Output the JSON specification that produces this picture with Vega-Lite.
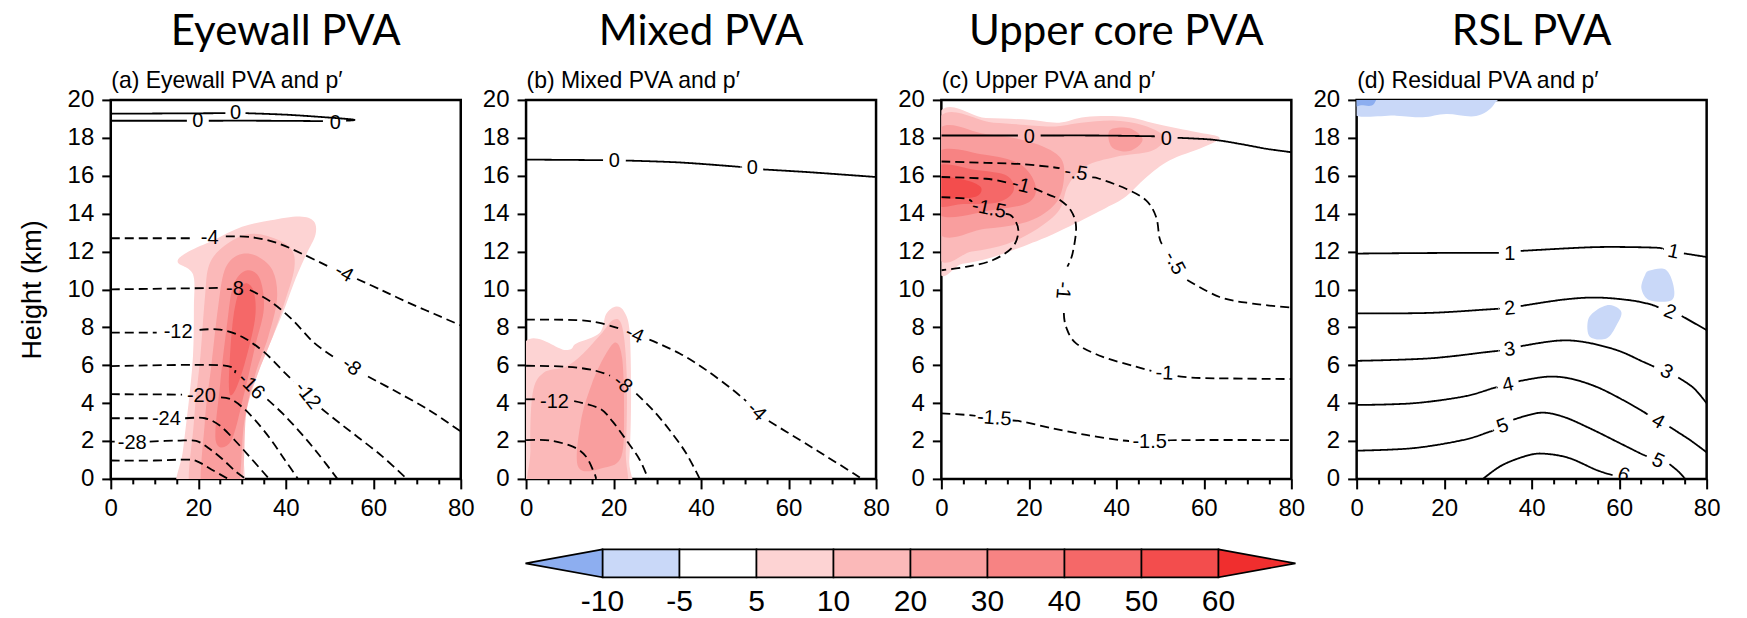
{
"$schema": "https://vega.github.io/schema/vega-lite/v6.json",
"background": "white",
"padding": {"left": 16.5, "top": 9.9, "right": 10, "bottom": 0},
"config": {
  "font": "Liberation Sans",
  "view": {"stroke": "black", "strokeWidth": 2.5},
  "axis": {"labelFont": "Liberation Sans", "labelFontSize": 24, "labelColor": "black", "titleFont": "Liberation Sans", "titleFontSize": 27, "titleFontWeight": "normal", "titleColor": "black", "tickColor": "black", "tickWidth": 2, "domain": false, "grid": false}
},
"spacing": 22.5,
"center": true,
"resolve": {"scale": {"fill": "independent"}},
"vconcat": [
{
"hconcat": [
{
 "width": 350, "height": 379,
 "title": {"text": "Eyewall PVA", "font": "Lato", "fontSize": 42, "fontWeight": "normal", "color": "black", "anchor": "middle", "frame": "group", "offset": 15.5},
 "resolve": {"axis": {"x": "independent", "y": "independent"}},
 "layer": [
  {"data": {"name": "fa"}, "mark": {"type": "line", "interpolate": "cardinal-closed", "clip": true, "strokeWidth": 0, "strokeOpacity": 0},
   "encoding": {
    "x": {"field": "x", "type": "quantitative", "scale": {"domain": [0, 80], "nice": false, "zero": false}, "axis": {"orient": "bottom", "values": [0,5,10,15,20,25,30,35,40,45,50,55,60,65,70,75,80], "tickSize": {"condition": {"test": "datum.value % 20 === 0", "value": 10}, "value": 5}, "labelExpr": "datum.value % 20 === 0 ? datum.label : ''", "labelPadding": 8, "title": null, "labelAngle": 0, "labelOverlap": false, "labelFlush": false}},
    "y": {"field": "y", "type": "quantitative", "scale": {"domain": [0, 20], "nice": false, "zero": false}, "axis": {"orient": "left", "values": [0,2,4,6,8,10,12,14,16,18,20], "tickSize": 9, "labelPadding": 8, "title": "Height (km)", "titlePadding": 21, "labelOverlap": false}},
    "detail": {"field": "id"},
    "order": {"value": null},
    "fill": {"field": "lev", "type": "nominal", "scale": {"domain": ["lt","m10","5","10","20","30","40","50"], "range": ["#8DAEF0","#C9D8F8","#FDD3D3","#FBB9B9","#F99E9E","#F78383","#F56868","#F34D4D"]}, "legend": null}
   }},
  {"data": {"name": "la"}, "mark": {"type": "line", "interpolate": "cardinal", "clip": true, "strokeWidth": 1.8, "color": "black"},
   "encoding": {
    "x": {"field": "x", "type": "quantitative", "axis": {"orient": "top", "labels": false, "ticks": false, "domain": false, "title": "(a) Eyewall PVA and p′", "titleFontSize": 23, "titleAnchor": "start", "titleAlign": "left", "titlePadding": 7}},
    "y": {"field": "y", "type": "quantitative", "axis": null},
    "detail": {"field": "s"},
    "order": {"value": null},
    "strokeDash": {"condition": {"test": "datum.v < 0", "value": [9, 5]}, "value": [1, 0]}
   }},
  {"data": {"name": "ta"}, "mark": {"type": "text", "fontSize": 20, "font": "Liberation Sans", "color": "black", "clip": true},
   "encoding": {
    "x": {"field": "x", "type": "quantitative", "axis": null},
    "y": {"field": "y", "type": "quantitative", "axis": null},
    "text": {"field": "t"},
    "angle": {"field": "r", "type": "quantitative", "scale": null}
   }}
 ]
},
{
 "width": 350, "height": 379,
 "title": {"text": "Mixed PVA", "font": "Lato", "fontSize": 42, "fontWeight": "normal", "color": "black", "anchor": "middle", "frame": "group", "offset": 15.5},
 "resolve": {"axis": {"x": "independent", "y": "independent"}},
 "layer": [
  {"data": {"name": "fb"}, "mark": {"type": "line", "interpolate": "cardinal-closed", "clip": true, "strokeWidth": 0, "strokeOpacity": 0},
   "encoding": {
    "x": {"field": "x", "type": "quantitative", "scale": {"domain": [0, 80], "nice": false, "zero": false}, "axis": {"orient": "bottom", "values": [0,5,10,15,20,25,30,35,40,45,50,55,60,65,70,75,80], "tickSize": {"condition": {"test": "datum.value % 20 === 0", "value": 10}, "value": 5}, "labelExpr": "datum.value % 20 === 0 ? datum.label : ''", "labelPadding": 8, "title": null, "labelAngle": 0, "labelOverlap": false, "labelFlush": false}},
    "y": {"field": "y", "type": "quantitative", "scale": {"domain": [0, 20], "nice": false, "zero": false}, "axis": {"orient": "left", "values": [0,2,4,6,8,10,12,14,16,18,20], "tickSize": 9, "labelPadding": 8, "title": null, "labelOverlap": false}},
    "detail": {"field": "id"},
    "order": {"value": null},
    "fill": {"field": "lev", "type": "nominal", "scale": {"domain": ["lt","m10","5","10","20","30","40","50"], "range": ["#8DAEF0","#C9D8F8","#FDD3D3","#FBB9B9","#F99E9E","#F78383","#F56868","#F34D4D"]}, "legend": null}
   }},
  {"data": {"name": "lb"}, "mark": {"type": "line", "interpolate": "cardinal", "clip": true, "strokeWidth": 1.8, "color": "black"},
   "encoding": {
    "x": {"field": "x", "type": "quantitative", "axis": {"orient": "top", "labels": false, "ticks": false, "domain": false, "title": "(b) Mixed PVA and p′", "titleFontSize": 23, "titleAnchor": "start", "titleAlign": "left", "titlePadding": 7}},
    "y": {"field": "y", "type": "quantitative", "axis": null},
    "detail": {"field": "s"},
    "order": {"value": null},
    "strokeDash": {"condition": {"test": "datum.v < 0", "value": [9, 5]}, "value": [1, 0]}
   }},
  {"data": {"name": "tb"}, "mark": {"type": "text", "fontSize": 20, "font": "Liberation Sans", "color": "black", "clip": true},
   "encoding": {
    "x": {"field": "x", "type": "quantitative", "axis": null},
    "y": {"field": "y", "type": "quantitative", "axis": null},
    "text": {"field": "t"},
    "angle": {"field": "r", "type": "quantitative", "scale": null}
   }}
 ]
},
{
 "width": 350, "height": 379,
 "title": {"text": "Upper core PVA", "font": "Lato", "fontSize": 42, "fontWeight": "normal", "color": "black", "anchor": "middle", "frame": "group", "offset": 15.5},
 "resolve": {"axis": {"x": "independent", "y": "independent"}},
 "layer": [
  {"data": {"name": "fc"}, "mark": {"type": "line", "interpolate": "cardinal-closed", "clip": true, "strokeWidth": 0, "strokeOpacity": 0},
   "encoding": {
    "x": {"field": "x", "type": "quantitative", "scale": {"domain": [0, 80], "nice": false, "zero": false}, "axis": {"orient": "bottom", "values": [0,5,10,15,20,25,30,35,40,45,50,55,60,65,70,75,80], "tickSize": {"condition": {"test": "datum.value % 20 === 0", "value": 10}, "value": 5}, "labelExpr": "datum.value % 20 === 0 ? datum.label : ''", "labelPadding": 8, "title": null, "labelAngle": 0, "labelOverlap": false, "labelFlush": false}},
    "y": {"field": "y", "type": "quantitative", "scale": {"domain": [0, 20], "nice": false, "zero": false}, "axis": {"orient": "left", "values": [0,2,4,6,8,10,12,14,16,18,20], "tickSize": 9, "labelPadding": 8, "title": null, "labelOverlap": false}},
    "detail": {"field": "id"},
    "order": {"value": null},
    "fill": {"field": "lev", "type": "nominal", "scale": {"domain": ["lt","m10","5","10","20","30","40","50"], "range": ["#8DAEF0","#C9D8F8","#FDD3D3","#FBB9B9","#F99E9E","#F78383","#F56868","#F34D4D"]}, "legend": null}
   }},
  {"data": {"name": "lc"}, "mark": {"type": "line", "interpolate": "cardinal", "clip": true, "strokeWidth": 1.8, "color": "black"},
   "encoding": {
    "x": {"field": "x", "type": "quantitative", "axis": {"orient": "top", "labels": false, "ticks": false, "domain": false, "title": "(c) Upper PVA and p′", "titleFontSize": 23, "titleAnchor": "start", "titleAlign": "left", "titlePadding": 7}},
    "y": {"field": "y", "type": "quantitative", "axis": null},
    "detail": {"field": "s"},
    "order": {"value": null},
    "strokeDash": {"condition": {"test": "datum.v < 0", "value": [9, 5]}, "value": [1, 0]}
   }},
  {"data": {"name": "tc"}, "mark": {"type": "text", "fontSize": 20, "font": "Liberation Sans", "color": "black", "clip": true},
   "encoding": {
    "x": {"field": "x", "type": "quantitative", "axis": null},
    "y": {"field": "y", "type": "quantitative", "axis": null},
    "text": {"field": "t"},
    "angle": {"field": "r", "type": "quantitative", "scale": null}
   }}
 ]
},
{
 "width": 350, "height": 379,
 "title": {"text": "RSL PVA", "font": "Lato", "fontSize": 42, "fontWeight": "normal", "color": "black", "anchor": "middle", "frame": "group", "offset": 15.5},
 "resolve": {"axis": {"x": "independent", "y": "independent"}},
 "layer": [
  {"data": {"name": "fd"}, "mark": {"type": "line", "interpolate": "cardinal-closed", "clip": true, "strokeWidth": 0, "strokeOpacity": 0},
   "encoding": {
    "x": {"field": "x", "type": "quantitative", "scale": {"domain": [0, 80], "nice": false, "zero": false}, "axis": {"orient": "bottom", "values": [0,5,10,15,20,25,30,35,40,45,50,55,60,65,70,75,80], "tickSize": {"condition": {"test": "datum.value % 20 === 0", "value": 10}, "value": 5}, "labelExpr": "datum.value % 20 === 0 ? datum.label : ''", "labelPadding": 8, "title": null, "labelAngle": 0, "labelOverlap": false, "labelFlush": false}},
    "y": {"field": "y", "type": "quantitative", "scale": {"domain": [0, 20], "nice": false, "zero": false}, "axis": {"orient": "left", "values": [0,2,4,6,8,10,12,14,16,18,20], "tickSize": 9, "labelPadding": 8, "title": null, "labelOverlap": false}},
    "detail": {"field": "id"},
    "order": {"value": null},
    "fill": {"field": "lev", "type": "nominal", "scale": {"domain": ["lt","m10","5","10","20","30","40","50"], "range": ["#8DAEF0","#C9D8F8","#FDD3D3","#FBB9B9","#F99E9E","#F78383","#F56868","#F34D4D"]}, "legend": null}
   }},
  {"data": {"name": "ld"}, "mark": {"type": "line", "interpolate": "cardinal", "clip": true, "strokeWidth": 1.8, "color": "black"},
   "encoding": {
    "x": {"field": "x", "type": "quantitative", "axis": {"orient": "top", "labels": false, "ticks": false, "domain": false, "title": "(d) Residual PVA and p′", "titleFontSize": 23, "titleAnchor": "start", "titleAlign": "left", "titlePadding": 7}},
    "y": {"field": "y", "type": "quantitative", "axis": null},
    "detail": {"field": "s"},
    "order": {"value": null},
    "strokeDash": {"condition": {"test": "datum.v < 0", "value": [9, 5]}, "value": [1, 0]}
   }},
  {"data": {"name": "td"}, "mark": {"type": "text", "fontSize": 20, "font": "Liberation Sans", "color": "black", "clip": true},
   "encoding": {
    "x": {"field": "x", "type": "quantitative", "axis": null},
    "y": {"field": "y", "type": "quantitative", "axis": null},
    "text": {"field": "t"},
    "angle": {"field": "r", "type": "quantitative", "scale": null}
   }}
 ]
}
],
"spacing": 65.3,
"bounds": "flush",
"resolve": {"scale": {"fill": "independent"}}
},
{
 "width": 781, "height": 28,
 "view": {"stroke": null},
 "data": {"name": "cb"},
 "resolve": {"axis": {"x": "independent"}},
 "layer": [
  {"transform": [{"filter": "datum.c !== '<-10' && datum.c !== '60'"}],
   "mark": {"type": "rect", "stroke": "black", "strokeWidth": 1.6},
   "encoding": {
    "x": {"field": "c", "type": "ordinal", "scale": {"domain": ["<-10","-10","-5","5","10","20","30","40","50","60"], "paddingInner": 0, "paddingOuter": 0.0714, "align": 0}, "axis": {"orient": "bottom", "domain": false, "ticks": false, "labelFontSize": 30, "labelPadding": 9, "labelOffset": -38.5, "labelAngle": 0, "labelOverlap": false, "labelFlush": false, "title": null, "labelExpr": "datum.label === '<-10' ? '' : datum.label"}},
    "fill": {"field": "c", "type": "nominal", "scale": {"domain": ["<-10","-10","-5","5","10","20","30","40","50","60"], "range": ["#8DAEF0","#C9D8F8","#FFFFFF","#FDD3D3","#FBB9B9","#F99E9E","#F78383","#F56868","#F34D4D","#F02E2E"]}, "legend": null}
   }},
  {"transform": [{"filter": "datum.c === '<-10'"}],
   "mark": {"type": "point", "shape": "M 1 -0.364 L -1 0 L 1 0.364 Z", "size": 5929, "filled": true, "stroke": "black", "strokeWidth": 1.6, "opacity": 1},
   "encoding": {
    "x": {"field": "c", "type": "ordinal", "axis": null},
    "fill": {"field": "c", "type": "nominal", "legend": null}
   }},
  {"transform": [{"filter": "datum.c === '60'"}],
   "mark": {"type": "point", "shape": "M -1 -0.364 L 1 0 L -1 0.364 Z", "size": 5929, "filled": true, "stroke": "black", "strokeWidth": 1.6, "opacity": 1},
   "encoding": {
    "x": {"field": "c", "type": "ordinal", "axis": null},
    "fill": {"field": "c", "type": "nominal", "legend": null}
   }}
 ]
}
],
"datasets": {
"cb": [{"c":"<-10"},{"c":"-10"},{"c":"-5"},{"c":"5"},{"c":"10"},{"c":"20"},{"c":"30"},{"c":"40"},{"c":"50"},{"c":"60"}],
"fa": [
{"id":"a05","lev":"5","x":15.5,"y":-1},{"id":"a05","lev":"5","x":16.5,"y":1.5},{"id":"a05","lev":"5","x":17.8,"y":4},{"id":"a05","lev":"5","x":18.8,"y":6.5},{"id":"a05","lev":"5","x":19,"y":9},{"id":"a05","lev":"5","x":18.8,"y":10.8},{"id":"a05","lev":"5","x":15.3,"y":11.45},{"id":"a05","lev":"5","x":17.8,"y":12},{"id":"a05","lev":"5","x":23.5,"y":12.6},{"id":"a05","lev":"5","x":30,"y":13.3},{"id":"a05","lev":"5","x":36.6,"y":13.65},{"id":"a05","lev":"5","x":43.2,"y":13.85},{"id":"a05","lev":"5","x":46.4,"y":13.6},{"id":"a05","lev":"5","x":46.8,"y":12.9},{"id":"a05","lev":"5","x":44.8,"y":11.9},{"id":"a05","lev":"5","x":42.3,"y":10.6},{"id":"a05","lev":"5","x":39.9,"y":9.1},{"id":"a05","lev":"5","x":37.4,"y":7.7},{"id":"a05","lev":"5","x":34.2,"y":5.9},{"id":"a05","lev":"5","x":31.7,"y":4.2},{"id":"a05","lev":"5","x":30,"y":2.4},{"id":"a05","lev":"5","x":29.5,"y":-1},
{"id":"a10","lev":"10","x":18.5,"y":-1},{"id":"a10","lev":"10","x":19,"y":3},{"id":"a10","lev":"10","x":20.5,"y":6.5},{"id":"a10","lev":"10","x":21.5,"y":9.5},{"id":"a10","lev":"10","x":22.5,"y":11.3},{"id":"a10","lev":"10","x":26,"y":12.3},{"id":"a10","lev":"10","x":31,"y":12.9},{"id":"a10","lev":"10","x":36,"y":12.8},{"id":"a10","lev":"10","x":41,"y":12.2},{"id":"a10","lev":"10","x":42,"y":11.2},{"id":"a10","lev":"10","x":40,"y":9.5},{"id":"a10","lev":"10","x":37,"y":7.5},{"id":"a10","lev":"10","x":33.5,"y":5.5},{"id":"a10","lev":"10","x":31,"y":3.5},{"id":"a10","lev":"10","x":29,"y":-1},
{"id":"a20","lev":"20","x":21,"y":-1},{"id":"a20","lev":"20","x":21.5,"y":3},{"id":"a20","lev":"20","x":23,"y":6},{"id":"a20","lev":"20","x":24.5,"y":9},{"id":"a20","lev":"20","x":26,"y":11},{"id":"a20","lev":"20","x":29,"y":11.8},{"id":"a20","lev":"20","x":33,"y":11.8},{"id":"a20","lev":"20","x":37,"y":11},{"id":"a20","lev":"20","x":38,"y":9.5},{"id":"a20","lev":"20","x":36,"y":7.5},{"id":"a20","lev":"20","x":33,"y":5.5},{"id":"a20","lev":"20","x":30.5,"y":3},{"id":"a20","lev":"20","x":28.5,"y":-1},
{"id":"a30","lev":"30","x":24,"y":2},{"id":"a30","lev":"30","x":25,"y":5},{"id":"a30","lev":"30","x":26.5,"y":8},{"id":"a30","lev":"30","x":28,"y":10.2},{"id":"a30","lev":"30","x":31,"y":11},{"id":"a30","lev":"30","x":34,"y":10.6},{"id":"a30","lev":"30","x":35,"y":9},{"id":"a30","lev":"30","x":33,"y":7},{"id":"a30","lev":"30","x":30.5,"y":4.5},{"id":"a30","lev":"30","x":27.5,"y":2},
{"id":"a40","lev":"40","x":27,"y":5},{"id":"a40","lev":"40","x":28,"y":8.5},{"id":"a40","lev":"40","x":30,"y":10.2},{"id":"a40","lev":"40","x":32.5,"y":10},{"id":"a40","lev":"40","x":33,"y":8.5},{"id":"a40","lev":"40","x":30.5,"y":6},{"id":"a40","lev":"40","x":28,"y":4.5}
],
"la": [
{"v":0,"s":"z1","x":0,"y":19.27},{"v":0,"s":"z1","x":26.2,"y":19.3},
{"v":0,"s":"z2","x":30.8,"y":19.3},{"v":0,"s":"z2","x":40,"y":19.22},{"v":0,"s":"z2","x":48,"y":19.1},{"v":0,"s":"z2","x":55.5,"y":18.96},{"v":0,"s":"z2","x":53.8,"y":18.9},
{"v":0,"s":"z3","x":0,"y":18.9},{"v":0,"s":"z3","x":17.4,"y":18.9},
{"v":0,"s":"z4","x":22.4,"y":18.9},{"v":0,"s":"z4","x":35,"y":18.9},{"v":0,"s":"z4","x":48.5,"y":18.88},
{"v":-4,"s":"m4a","x":0,"y":12.7},{"v":-4,"s":"m4a","x":19,"y":12.7},
{"v":-4,"s":"m4b","x":26.3,"y":12.8},{"v":-4,"s":"m4b","x":32,"y":12.76},{"v":-4,"s":"m4b","x":38,"y":12.45},{"v":-4,"s":"m4b","x":44,"y":11.85},{"v":-4,"s":"m4b","x":50.3,"y":11.15},
{"v":-4,"s":"m4c","x":56.3,"y":10.55},{"v":-4,"s":"m4c","x":62,"y":9.95},{"v":-4,"s":"m4c","x":68,"y":9.3},{"v":-4,"s":"m4c","x":74,"y":8.7},{"v":-4,"s":"m4c","x":80,"y":8.1},
{"v":-8,"s":"m8a","x":0,"y":10},{"v":-8,"s":"m8a","x":25,"y":10.08},
{"v":-8,"s":"m8b","x":31.8,"y":9.97},{"v":-8,"s":"m8b","x":36.6,"y":9.35},{"v":-8,"s":"m8b","x":41.5,"y":8.4},{"v":-8,"s":"m8b","x":46.4,"y":7.2},{"v":-8,"s":"m8b","x":51.2,"y":6.4},
{"v":-8,"s":"m8c","x":58.8,"y":5.4},{"v":-8,"s":"m8c","x":64.5,"y":4.7},{"v":-8,"s":"m8c","x":72.6,"y":3.65},{"v":-8,"s":"m8c","x":80,"y":2.5},
{"v":-12,"s":"m12a","x":0,"y":7.72},{"v":-12,"s":"m12a","x":10.5,"y":7.72},
{"v":-12,"s":"m12b","x":20.3,"y":7.86},{"v":-12,"s":"m12b","x":25,"y":7.88},{"v":-12,"s":"m12b","x":30,"y":7.5},{"v":-12,"s":"m12b","x":35,"y":6.7},{"v":-12,"s":"m12b","x":39.8,"y":5.6},{"v":-12,"s":"m12b","x":41.8,"y":5.15},
{"v":-12,"s":"m12c","x":48.2,"y":3.7},{"v":-12,"s":"m12c","x":52,"y":3.0},{"v":-12,"s":"m12c","x":56.5,"y":2.2},{"v":-12,"s":"m12c","x":62,"y":1.2},{"v":-12,"s":"m12c","x":67.7,"y":0},
{"v":-16,"s":"m16a","x":0,"y":5.95},{"v":-16,"s":"m16a","x":25,"y":6.0},{"v":-16,"s":"m16a","x":28.3,"y":5.6},
{"v":-16,"s":"m16b","x":35.8,"y":4.2},{"v":-16,"s":"m16b","x":39.5,"y":3.4},{"v":-16,"s":"m16b","x":43.5,"y":2.4},{"v":-16,"s":"m16b","x":47.5,"y":1.3},{"v":-16,"s":"m16b","x":51.8,"y":0},
{"v":-20,"s":"m20a","x":0,"y":4.47},{"v":-20,"s":"m20a","x":16.3,"y":4.45},
{"v":-20,"s":"m20b","x":25.2,"y":4.3},{"v":-20,"s":"m20b","x":27.5,"y":4.2},{"v":-20,"s":"m20b","x":30,"y":3.8},{"v":-20,"s":"m20b","x":33,"y":3.1},{"v":-20,"s":"m20b","x":36.5,"y":2.1},{"v":-20,"s":"m20b","x":39.8,"y":1.0},{"v":-20,"s":"m20b","x":42.8,"y":0},
{"v":-24,"s":"m24a","x":0,"y":3.2},{"v":-24,"s":"m24a","x":8.5,"y":3.2},
{"v":-24,"s":"m24b","x":17,"y":3.2},{"v":-24,"s":"m24b","x":21.5,"y":3.2},{"v":-24,"s":"m24b","x":25,"y":2.8},{"v":-24,"s":"m24b","x":28.5,"y":2.0},{"v":-24,"s":"m24b","x":32,"y":1.1},{"v":-24,"s":"m24b","x":36.2,"y":0},
{"v":-28,"s":"m28a","x":0,"y":1.97},{"v":-28,"s":"m28a","x":0.9,"y":1.97},
{"v":-28,"s":"m28b","x":8.9,"y":1.97},{"v":-28,"s":"m28b","x":15.3,"y":2.02},{"v":-28,"s":"m28b","x":19.5,"y":2.0},{"v":-28,"s":"m28b","x":22.5,"y":1.6},{"v":-28,"s":"m28b","x":25.5,"y":1.05},{"v":-28,"s":"m28b","x":28.5,"y":0.4},{"v":-28,"s":"m28b","x":30.9,"y":0},
{"v":-32,"s":"m32","x":0,"y":0.97},{"v":-32,"s":"m32","x":10,"y":0.97},{"v":-32,"s":"m32","x":17.5,"y":1.02},{"v":-32,"s":"m32","x":20,"y":0.9},{"v":-32,"s":"m32","x":23,"y":0.5},{"v":-32,"s":"m32","x":26.8,"y":0}
],
"ta": [
{"t":"0","x":28.5,"y":19.33,"r":0},{"t":"0","x":19.9,"y":18.9,"r":0},{"t":"0","x":51.3,"y":18.8,"r":0},
{"t":"-4","x":22.6,"y":12.72,"r":0},{"t":"-4","x":53.3,"y":10.85,"r":30},
{"t":"-8","x":28.4,"y":10.02,"r":0},{"t":"-8","x":55,"y":5.92,"r":38},
{"t":"-12","x":15.4,"y":7.75,"r":0},{"t":"-12","x":45,"y":4.4,"r":52},
{"t":"-16","x":32.1,"y":4.9,"r":45},{"t":"-20","x":20.7,"y":4.35,"r":0},{"t":"-24","x":12.7,"y":3.15,"r":0},{"t":"-28","x":4.9,"y":1.9,"r":0}
],
"fb": [
{"id":"b05","lev":"5","x":-1,"y":-1},{"id":"b05","lev":"5","x":-1,"y":6.88},{"id":"b05","lev":"5","x":9.2,"y":6.8},{"id":"b05","lev":"5","x":11.5,"y":7.15},{"id":"b05","lev":"5","x":16.8,"y":7.7},{"id":"b05","lev":"5","x":18.3,"y":8.7},{"id":"b05","lev":"5","x":20.6,"y":9.1},{"id":"b05","lev":"5","x":22.5,"y":8.8},{"id":"b05","lev":"5","x":23.7,"y":7.7},{"id":"b05","lev":"5","x":24,"y":4.2},{"id":"b05","lev":"5","x":23.6,"y":1.0},{"id":"b05","lev":"5","x":22.5,"y":-1},
{"id":"b10","lev":"10","x":2,"y":-1},{"id":"b10","lev":"10","x":1,"y":1.5},{"id":"b10","lev":"10","x":1.5,"y":4.5},{"id":"b10","lev":"10","x":4,"y":5.6},{"id":"b10","lev":"10","x":9,"y":5.9},{"id":"b10","lev":"10","x":13,"y":6.6},{"id":"b10","lev":"10","x":17,"y":7.6},{"id":"b10","lev":"10","x":20,"y":8.4},{"id":"b10","lev":"10","x":22,"y":8.0},{"id":"b10","lev":"10","x":23,"y":5.5},{"id":"b10","lev":"10","x":22.8,"y":1.5},{"id":"b10","lev":"10","x":21.5,"y":-1},
{"id":"b20","lev":"20","x":12,"y":0.6},{"id":"b20","lev":"20","x":12.5,"y":3},{"id":"b20","lev":"20","x":15,"y":5},{"id":"b20","lev":"20","x":18,"y":6.5},{"id":"b20","lev":"20","x":20.5,"y":7.2},{"id":"b20","lev":"20","x":22,"y":6.3},{"id":"b20","lev":"20","x":22.4,"y":3.5},{"id":"b20","lev":"20","x":21.8,"y":1.2},{"id":"b20","lev":"20","x":18,"y":0.6}
],
"lb": [
{"v":0,"s":"z1","x":0,"y":16.85},{"v":0,"s":"z1","x":17.6,"y":16.82},
{"v":0,"s":"z2","x":22.8,"y":16.8},{"v":0,"s":"z2","x":35,"y":16.7},{"v":0,"s":"z2","x":47,"y":16.5},{"v":0,"s":"z2","x":49.2,"y":16.45},
{"v":0,"s":"z3","x":54.2,"y":16.33},{"v":0,"s":"z3","x":65,"y":16.18},{"v":0,"s":"z3","x":80,"y":15.93},
{"v":-4,"s":"m4a","x":0,"y":8.41},{"v":-4,"s":"m4a","x":11.5,"y":8.38},{"v":-4,"s":"m4a","x":16.8,"y":8.23},{"v":-4,"s":"m4a","x":21.5,"y":7.92},
{"v":-4,"s":"m4b","x":28.2,"y":7.35},{"v":-4,"s":"m4b","x":35.1,"y":6.62},{"v":-4,"s":"m4b","x":41.2,"y":5.74},{"v":-4,"s":"m4b","x":47.3,"y":4.69},{"v":-4,"s":"m4b","x":50.3,"y":4.1},
{"v":-4,"s":"m4c","x":55.5,"y":3.05},{"v":-4,"s":"m4c","x":62.6,"y":2.05},{"v":-4,"s":"m4c","x":68.7,"y":1.18},{"v":-4,"s":"m4c","x":74.8,"y":0.3},{"v":-4,"s":"m4c","x":76.7,"y":0},
{"v":-8,"s":"m8a","x":0,"y":5.97},{"v":-8,"s":"m8a","x":9.2,"y":5.92},{"v":-8,"s":"m8a","x":15.3,"y":5.74},{"v":-8,"s":"m8a","x":19.2,"y":5.45},
{"v":-8,"s":"m8b","x":25.2,"y":4.5},{"v":-8,"s":"m8b","x":29,"y":3.63},{"v":-8,"s":"m8b","x":32.8,"y":2.58},{"v":-8,"s":"m8b","x":36.6,"y":1.35},{"v":-8,"s":"m8b","x":39.7,"y":0},
{"v":-12,"s":"m12a","x":0,"y":4.2},{"v":-12,"s":"m12a","x":2.0,"y":4.2},
{"v":-12,"s":"m12b","x":11,"y":4.1},{"v":-12,"s":"m12b","x":16.8,"y":3.72},{"v":-12,"s":"m12b","x":19.8,"y":3.02},{"v":-12,"s":"m12b","x":22.9,"y":2.05},{"v":-12,"s":"m12b","x":26,"y":1.0},{"v":-12,"s":"m12b","x":27.9,"y":0},
{"v":-16,"s":"m16","x":0,"y":2.05},{"v":-16,"s":"m16","x":5.3,"y":2.03},{"v":-16,"s":"m16","x":10.7,"y":1.7},{"v":-16,"s":"m16","x":13.7,"y":1.18},{"v":-16,"s":"m16","x":15.6,"y":0.3},{"v":-16,"s":"m16","x":16,"y":0}
],
"tb": [
{"t":"0","x":20.2,"y":16.78,"r":0},{"t":"0","x":51.7,"y":16.38,"r":0},
{"t":"-4","x":24.8,"y":7.62,"r":25},{"t":"-4","x":52.7,"y":3.55,"r":45},
{"t":"-8","x":22.1,"y":5.0,"r":40},{"t":"-12","x":6.5,"y":4.05,"r":0}
],
"fc": [
{"id":"c05","lev":"5","x":-1,"y":19.05},{"id":"c05","lev":"5","x":10.2,"y":19.05},{"id":"c05","lev":"5","x":20,"y":18.95},{"id":"c05","lev":"5","x":26.9,"y":18.8},{"id":"c05","lev":"5","x":33,"y":19.1},{"id":"c05","lev":"5","x":42.2,"y":19.1},{"id":"c05","lev":"5","x":49.8,"y":18.7},{"id":"c05","lev":"5","x":58.2,"y":18.3},{"id":"c05","lev":"5","x":63.6,"y":18.0},{"id":"c05","lev":"5","x":59.8,"y":17.5},{"id":"c05","lev":"5","x":52.1,"y":16.8},{"id":"c05","lev":"5","x":46.8,"y":15.9},{"id":"c05","lev":"5","x":42.2,"y":14.9},{"id":"c05","lev":"5","x":37.6,"y":14.3},{"id":"c05","lev":"5","x":30.8,"y":13.5},{"id":"c05","lev":"5","x":25.4,"y":12.9},{"id":"c05","lev":"5","x":20.1,"y":12.4},{"id":"c05","lev":"5","x":11.7,"y":11.7},{"id":"c05","lev":"5","x":4.8,"y":11.35},{"id":"c05","lev":"5","x":-1,"y":11.25},
{"id":"c10","lev":"10","x":-1,"y":18.85},{"id":"c10","lev":"10","x":12,"y":18.8},{"id":"c10","lev":"10","x":25,"y":18.6},{"id":"c10","lev":"10","x":32,"y":18.8},{"id":"c10","lev":"10","x":40,"y":18.9},{"id":"c10","lev":"10","x":47,"y":18.6},{"id":"c10","lev":"10","x":51,"y":18.0},{"id":"c10","lev":"10","x":48,"y":17.3},{"id":"c10","lev":"10","x":40,"y":17.0},{"id":"c10","lev":"10","x":33,"y":16.5},{"id":"c10","lev":"10","x":29,"y":15.5},{"id":"c10","lev":"10","x":27,"y":14.2},{"id":"c10","lev":"10","x":22,"y":13.2},{"id":"c10","lev":"10","x":15,"y":12.4},{"id":"c10","lev":"10","x":7,"y":12.0},{"id":"c10","lev":"10","x":-1,"y":11.9},
{"id":"c20","lev":"20","x":-1,"y":18.3},{"id":"c20","lev":"20","x":10,"y":18.2},{"id":"c20","lev":"20","x":20,"y":17.8},{"id":"c20","lev":"20","x":27,"y":17},{"id":"c20","lev":"20","x":28,"y":15.8},{"id":"c20","lev":"20","x":26,"y":14.5},{"id":"c20","lev":"20","x":20,"y":13.6},{"id":"c20","lev":"20","x":10,"y":13.2},{"id":"c20","lev":"20","x":-1,"y":13.1},
{"id":"c21","lev":"20","x":38.5,"y":18.4},{"id":"c21","lev":"20","x":43,"y":18.5},{"id":"c21","lev":"20","x":46,"y":17.9},{"id":"c21","lev":"20","x":43,"y":17.3},{"id":"c21","lev":"20","x":39,"y":17.5},
{"id":"c30","lev":"30","x":-1,"y":17.2},{"id":"c30","lev":"30","x":10,"y":17.1},{"id":"c30","lev":"30","x":18,"y":16.6},{"id":"c30","lev":"30","x":21.5,"y":15.5},{"id":"c30","lev":"30","x":20,"y":14.6},{"id":"c30","lev":"30","x":12,"y":14.2},{"id":"c30","lev":"30","x":-1,"y":14.0},
{"id":"c40","lev":"40","x":-1,"y":16.5},{"id":"c40","lev":"40","x":8,"y":16.3},{"id":"c40","lev":"40","x":15,"y":16.0},{"id":"c40","lev":"40","x":16.5,"y":15.2},{"id":"c40","lev":"40","x":13,"y":14.6},{"id":"c40","lev":"40","x":5,"y":14.5},{"id":"c40","lev":"40","x":-1,"y":14.5},
{"id":"c50","lev":"50","x":-1,"y":15.9},{"id":"c50","lev":"50","x":5,"y":15.8},{"id":"c50","lev":"50","x":9,"y":15.4},{"id":"c50","lev":"50","x":8,"y":14.9},{"id":"c50","lev":"50","x":3,"y":14.8},{"id":"c50","lev":"50","x":-1,"y":14.85}
],
"lc": [
{"v":0,"s":"z1","x":0,"y":18.12},{"v":0,"s":"z1","x":17.5,"y":18.12},
{"v":0,"s":"z2","x":22.7,"y":18.12},{"v":0,"s":"z2","x":36,"y":18.12},{"v":0,"s":"z2","x":48.8,"y":18.08},
{"v":0,"s":"z3","x":54,"y":18.0},{"v":0,"s":"z3","x":62,"y":17.9},{"v":0,"s":"z3","x":68.2,"y":17.68},{"v":0,"s":"z3","x":74.3,"y":17.42},{"v":0,"s":"z3","x":80,"y":17.24},
{"v":-0.5,"s":"h1","x":0,"y":16.75},{"v":-0.5,"s":"h1","x":10.2,"y":16.68},{"v":-0.5,"s":"h1","x":17.8,"y":16.62},{"v":-0.5,"s":"h1","x":25.4,"y":16.45},{"v":-0.5,"s":"h1","x":27,"y":16.38},
{"v":-0.5,"s":"h2","x":34.5,"y":15.9},{"v":-0.5,"s":"h2","x":36.1,"y":15.84},{"v":-0.5,"s":"h2","x":42.2,"y":15.31},{"v":-0.5,"s":"h2","x":46.8,"y":14.7},{"v":-0.5,"s":"h2","x":49.1,"y":13.82},{"v":-0.5,"s":"h2","x":49.8,"y":12.77},{"v":-0.5,"s":"h2","x":50.4,"y":12.4},
{"v":-0.5,"s":"h3","x":56.2,"y":10.5},{"v":-0.5,"s":"h3","x":63.6,"y":9.6},{"v":-0.5,"s":"h3","x":71.2,"y":9.25},{"v":-0.5,"s":"h3","x":80,"y":9.04},
{"v":-1,"s":"o1","x":0,"y":15.93},{"v":-1,"s":"o1","x":10.2,"y":15.84},{"v":-1,"s":"o1","x":15.3,"y":15.62},
{"v":-1,"s":"o2","x":21.2,"y":15.33},{"v":-1,"s":"o2","x":24.5,"y":15.0},{"v":-1,"s":"o2","x":26.9,"y":14.75},{"v":-1,"s":"o2","x":29.6,"y":14.17},{"v":-1,"s":"o2","x":30.8,"y":13.29},{"v":-1,"s":"o2","x":30,"y":11.9},{"v":-1,"s":"o2","x":28.8,"y":11.2},
{"v":-1,"s":"o3","x":28,"y":8.75},{"v":-1,"s":"o3","x":28.5,"y":8.02},{"v":-1,"s":"o3","x":30.8,"y":7.15},{"v":-1,"s":"o3","x":36.9,"y":6.44},{"v":-1,"s":"o3","x":44.5,"y":5.92},{"v":-1,"s":"o3","x":48,"y":5.7},
{"v":-1,"s":"o4","x":54,"y":5.42},{"v":-1,"s":"o4","x":60,"y":5.32},{"v":-1,"s":"o4","x":80,"y":5.27},
{"v":-1.5,"s":"p1","x":0,"y":14.87},{"v":-1.5,"s":"p1","x":5.6,"y":14.79},{"v":-1.5,"s":"p1","x":7,"y":14.62},
{"v":-1.5,"s":"p2","x":14.7,"y":13.98},{"v":-1.5,"s":"p2","x":16.3,"y":13.82},{"v":-1.5,"s":"p2","x":17.6,"y":13.12},{"v":-1.5,"s":"p2","x":16.3,"y":12.24},{"v":-1.5,"s":"p2","x":11.7,"y":11.54},{"v":-1.5,"s":"p2","x":5.6,"y":11.19},{"v":-1.5,"s":"p2","x":0,"y":11.01},
{"v":-1.5,"s":"q1","x":0,"y":3.46},{"v":-1.5,"s":"q1","x":6.3,"y":3.37},{"v":-1.5,"s":"q1","x":7.8,"y":3.33},
{"v":-1.5,"s":"q2","x":16.3,"y":3.08},{"v":-1.5,"s":"q2","x":18.5,"y":3.02},{"v":-1.5,"s":"q2","x":25.4,"y":2.67},{"v":-1.5,"s":"q2","x":33.1,"y":2.32},{"v":-1.5,"s":"q2","x":40.7,"y":2.05},{"v":-1.5,"s":"q2","x":42.9,"y":2.0},
{"v":-1.5,"s":"q3","x":52.3,"y":2.03},{"v":-1.5,"s":"q3","x":55.2,"y":2.05},{"v":-1.5,"s":"q3","x":80,"y":2.05}
],
"tc": [
{"t":"0","x":20.1,"y":18.05,"r":0},{"t":"0","x":51.4,"y":17.95,"r":0},
{"t":"-.5","x":30.8,"y":16.15,"r":10},{"t":"-.5","x":53.3,"y":11.4,"r":62},
{"t":"-1","x":18.2,"y":15.49,"r":15},{"t":"-1","x":27.8,"y":9.95,"r":95},{"t":"-1","x":51,"y":5.57,"r":3},
{"t":"-1.5","x":10.9,"y":14.25,"r":12},{"t":"-1.5","x":12.1,"y":3.2,"r":4},{"t":"-1.5","x":47.6,"y":1.97,"r":0}
],
"fd": [
{"id":"d1","lev":"m10","x":-1,"y":21},{"id":"d1","lev":"m10","x":32.5,"y":21},{"id":"d1","lev":"m10","x":31.5,"y":19.8},{"id":"d1","lev":"m10","x":27.3,"y":19.15},{"id":"d1","lev":"m10","x":20.5,"y":19.25},{"id":"d1","lev":"m10","x":15.1,"y":19.08},{"id":"d1","lev":"m10","x":9,"y":19.17},{"id":"d1","lev":"m10","x":-1,"y":19.26},
{"id":"d2","lev":"m10","x":67,"y":11.0},{"id":"d2","lev":"m10","x":70.6,"y":11.05},{"id":"d2","lev":"m10","x":72.4,"y":10.22},{"id":"d2","lev":"m10","x":72,"y":9.43},{"id":"d2","lev":"m10","x":67,"y":9.43},{"id":"d2","lev":"m10","x":65.1,"y":10.04},{"id":"d2","lev":"m10","x":65.9,"y":10.75},
{"id":"d3","lev":"m10","x":57.9,"y":9.17},{"id":"d3","lev":"m10","x":60.5,"y":8.81},{"id":"d3","lev":"m10","x":59.4,"y":8.11},{"id":"d3","lev":"m10","x":57.1,"y":7.41},{"id":"d3","lev":"m10","x":53.3,"y":7.5},{"id":"d3","lev":"m10","x":52.9,"y":8.38},{"id":"d3","lev":"m10","x":54.8,"y":8.9},
{"id":"d4","lev":"lt","x":-1,"y":21},{"id":"d4","lev":"lt","x":5,"y":21},{"id":"d4","lev":"lt","x":4,"y":19.8},{"id":"d4","lev":"lt","x":1,"y":19.72},{"id":"d4","lev":"lt","x":-1,"y":19.72}
],
"ld": [
{"v":1,"s":"a1","x":0,"y":11.89},{"v":1,"s":"a1","x":16.6,"y":11.92},{"v":1,"s":"a1","x":32.5,"y":11.93},
{"v":1,"s":"a2","x":37.5,"y":12.03},{"v":1,"s":"a2","x":51,"y":12.2},{"v":1,"s":"a2","x":58.6,"y":12.24},{"v":1,"s":"a2","x":68.5,"y":12.2},{"v":1,"s":"a2","x":70,"y":12.12},
{"v":1,"s":"a3","x":74.8,"y":11.9},{"v":1,"s":"a3","x":80,"y":11.71},
{"v":2,"s":"b1","x":0,"y":8.73},{"v":2,"s":"b1","x":16.6,"y":8.76},{"v":2,"s":"b1","x":30.4,"y":8.95},{"v":2,"s":"b1","x":32.5,"y":8.98},
{"v":2,"s":"b2","x":37.5,"y":9.12},{"v":2,"s":"b2","x":47.2,"y":9.46},{"v":2,"s":"b2","x":54.8,"y":9.57},{"v":2,"s":"b2","x":62.4,"y":9.43},{"v":2,"s":"b2","x":67,"y":9.22},{"v":2,"s":"b2","x":69,"y":9.05},
{"v":2,"s":"b3","x":74.3,"y":8.6},{"v":2,"s":"b3","x":80,"y":7.85},
{"v":3,"s":"c1","x":0,"y":6.23},{"v":3,"s":"c1","x":16.6,"y":6.36},{"v":3,"s":"c1","x":30.4,"y":6.71},{"v":3,"s":"c1","x":32.5,"y":6.76},
{"v":3,"s":"c2","x":37.5,"y":7.0},{"v":3,"s":"c2","x":45.7,"y":7.29},{"v":3,"s":"c2","x":51.8,"y":7.23},{"v":3,"s":"c2","x":59.4,"y":6.8},{"v":3,"s":"c2","x":65.5,"y":6.18},{"v":3,"s":"c2","x":68,"y":5.92},
{"v":3,"s":"c3","x":73.5,"y":5.35},{"v":3,"s":"c3","x":77,"y":4.8},{"v":3,"s":"c3","x":80,"y":3.99},
{"v":4,"s":"d1","x":0,"y":3.9},{"v":4,"s":"d1","x":12.8,"y":3.99},{"v":4,"s":"d1","x":24.3,"y":4.34},{"v":4,"s":"d1","x":31.1,"y":4.78},{"v":4,"s":"d1","x":32,"y":4.82},
{"v":4,"s":"d2","x":37,"y":5.15},{"v":4,"s":"d2","x":43.4,"y":5.39},{"v":4,"s":"d2","x":48.7,"y":5.3},{"v":4,"s":"d2","x":54.8,"y":4.86},{"v":4,"s":"d2","x":60.9,"y":4.16},{"v":4,"s":"d2","x":65.5,"y":3.55},{"v":4,"s":"d2","x":66.5,"y":3.4},
{"v":4,"s":"d3","x":71.5,"y":2.75},{"v":4,"s":"d3","x":76.2,"y":2.05},{"v":4,"s":"d3","x":80,"y":1.4},
{"v":5,"s":"e1","x":0,"y":1.49},{"v":5,"s":"e1","x":12.8,"y":1.62},{"v":5,"s":"e1","x":24.3,"y":2.05},{"v":5,"s":"e1","x":30.4,"y":2.49},{"v":5,"s":"e1","x":31.2,"y":2.55},
{"v":5,"s":"e2","x":35.8,"y":3.12},{"v":5,"s":"e2","x":41.9,"y":3.49},{"v":5,"s":"e2","x":47.2,"y":3.28},{"v":5,"s":"e2","x":53.3,"y":2.67},{"v":5,"s":"e2","x":60.2,"y":1.88},{"v":5,"s":"e2","x":64.8,"y":1.35},{"v":5,"s":"e2","x":66.3,"y":1.2},
{"v":5,"s":"e3","x":71.5,"y":0.78},{"v":5,"s":"e3","x":73.5,"y":0.4},{"v":5,"s":"e3","x":75.1,"y":0},
{"v":6,"s":"f1","x":28.9,"y":0},{"v":6,"s":"f1","x":33.4,"y":0.74},{"v":6,"s":"f1","x":39.5,"y":1.26},{"v":6,"s":"f1","x":43.4,"y":1.32},{"v":6,"s":"f1","x":48.7,"y":1.09},{"v":6,"s":"f1","x":54.8,"y":0.47},{"v":6,"s":"f1","x":58.5,"y":0.2}
],
"td": [
{"t":"1","x":35,"y":11.89,"r":0},{"t":"1","x":72.4,"y":11.98,"r":12},
{"t":"2","x":35,"y":8.99,"r":-5},{"t":"2","x":71.6,"y":8.81,"r":22},
{"t":"3","x":35,"y":6.83,"r":-8},{"t":"3","x":70.8,"y":5.65,"r":28},
{"t":"4","x":34.6,"y":4.95,"r":-12},{"t":"4","x":68.9,"y":3.02,"r":30},
{"t":"5","x":33.4,"y":2.78,"r":-20},{"t":"5","x":68.9,"y":0.95,"r":25},
{"t":"6","x":61,"y":0.2,"r":20}
]
}
}
